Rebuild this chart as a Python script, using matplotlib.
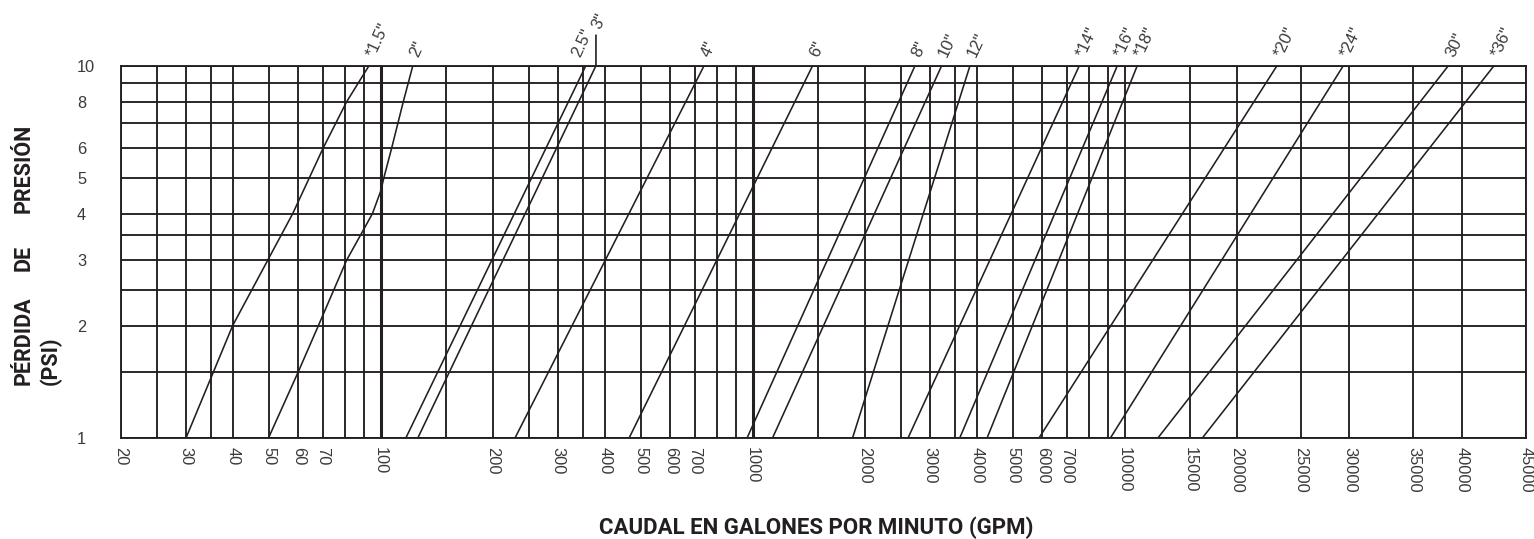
import numpy as np
import matplotlib
matplotlib.use("Agg")
import matplotlib.pyplot as plt

# ---- datos del grafico ----
x_major = [20, 30, 40, 50, 60, 70, 100, 200, 300, 400, 500, 600, 700, 1000,
           2000, 3000, 4000, 5000, 6000, 7000, 10000, 15000, 20000, 25000,
           30000, 35000, 40000, 45000]
x_minor = [25, 35, 80, 90, 150, 250, 350, 800, 900, 1500, 2500, 3500, 8000, 9000]
x_heavy = [100, 1000]
y_major = [1, 2, 3, 4, 5, 6, 8, 10]
y_minor = [1.5, 2.5, 3.5, 7, 9]

# above 20000 GPM the original axis is no longer logarithmic
tail_gpm = [20000, 25000, 30000, 35000, 40000, 45000]
tail_knots = [4.3010, 4.4731, 4.6042, 4.7763, 4.9067, 5.0788]

pipe_sizes = ['*1.5"', '2"', '2.5"', '3"', '4"', '6"', '8"', '10"', '12"',
              '*14"', '*16"', '*18"', '*20"', '*24"', '30"', '*36"']
gpm_1psi = [30, 50, 117, 126, 230, 466, 967, 1132, 1857, 2619, 3607, 4272,
            5894, 9171, 12310, 16210]
gpm_10psi = [93, 122, 356, 379, 740, 1449, 2731, 3221, 3838, 7551, 9554,
             10810, 23020, 29320, 38530, 42430]

# the small pipes are not straight, extra readings between 1 and 10 psi
bend_psi = {'*1.5"': [2, 4, 6, 8],
            '2"': [1.5, 2, 3, 4, 4.6, 5, 6, 8]}
bend_gpm = {'*1.5"': [40, 58, 70, 81],
            '2"': [60, 68, 81, 95, 100, 102, 107, 115]}

ink = '#231f20'
txt = '#3a3a3a'


def forward(x):
    lx = np.log10(np.clip(x, 1e-9, None))
    return np.where(lx <= tail_knots[0], lx,
                    np.interp(lx, np.log10(tail_gpm), tail_knots))


def inverse(u):
    u = np.asarray(u, dtype=float)
    return np.where(u <= tail_knots[0], 10.0 ** u,
                    10.0 ** np.interp(u, tail_knots, np.log10(tail_gpm)))


fig = plt.figure(figsize=(15.34, 5.39), dpi=100)
ax = fig.add_axes([0.07868, 0.18831, 0.91610, 0.68980])

ax.set_xscale('function', functions=(forward, inverse))
ax.set_yscale('log')
ax.set_xlim(20, 45000)
ax.set_ylim(1, 10)

ax.set_xticks(x_major)
ax.set_xticks(x_minor, minor=True)
ax.set_xticklabels([str(v) for v in x_major], rotation=-90,
                   fontsize=11.8, color=txt, family='Liberation Sans')
ax.set_xticklabels([], minor=True)
ax.set_yticks(y_major)
ax.set_yticks(y_minor, minor=True)
ax.set_yticklabels([str(v) for v in y_major], fontsize=11.8, color=txt,
                   family='Liberation Sans')
ax.set_yticklabels([], minor=True)
for lab in ax.get_yticklabels():
    lab.set_horizontalalignment('left')
ax.tick_params(which='both', length=0)
ax.tick_params(axis='x', pad=7)
ax.tick_params(axis='y', pad=31.5)

ax.grid(which='both', color=ink, linewidth=1.35)
for v in x_heavy:
    ax.axvline(v, color=ink, linewidth=2.2)
for s in ax.spines.values():
    s.set_color(ink)
    s.set_linewidth(1.35)

# curvas de cada diametro
for i, size in enumerate(pipe_sizes):
    psi = [1] + bend_psi.get(size, []) + [10]
    gpm = [gpm_1psi[i]] + bend_gpm.get(size, []) + [gpm_10psi[i]]
    ax.plot(gpm, psi, color=ink, linewidth=1.15, zorder=3)

    dx, dy = 4.0, 5.8
    if size == '2.5"':
        dx = -4.3
    if size == '3"':
        dx, dy = 2.9, 26
        ax.annotate('', xy=(gpm_10psi[i], 10), xytext=(0, 22),
                    textcoords='offset points', annotation_clip=False,
                    arrowprops=dict(arrowstyle='-', color=ink, lw=1.2,
                                    shrinkA=0, shrinkB=0))
    ax.annotate(size, xy=(gpm_10psi[i], 10), xytext=(dx, dy),
                textcoords='offset points', rotation=65,
                rotation_mode='anchor', ha='left', va='baseline',
                fontsize=12, color=txt, family='Liberation Sans',
                annotation_clip=False)

fig.text(816 / 1534, 1 - 528 / 539, 'CAUDAL EN GALONES POR MINUTO (GPM)',
         ha='center', va='center', fontsize=16, fontweight='bold',
         family='Roboto', color=ink)

# titulo del eje y, palabra por palabra
for word, y0 in [('PÉRDIDA', 385), ('DE', 271), ('PRESIÓN', 213)]:
    fig.text(24 / 1534, 1 - y0 / 539, word, rotation=90, rotation_mode='anchor',
             ha='left', va='center', fontsize=15.5, fontweight='bold',
             family='Roboto', color=ink)
fig.text(51 / 1534, 1 - 385 / 539, '(PSI)', rotation=90, rotation_mode='anchor',
         ha='left', va='center', fontsize=15.5, fontweight='bold',
         family='Roboto', color=ink)

fig.savefig('out.png', dpi=100, facecolor='white')
